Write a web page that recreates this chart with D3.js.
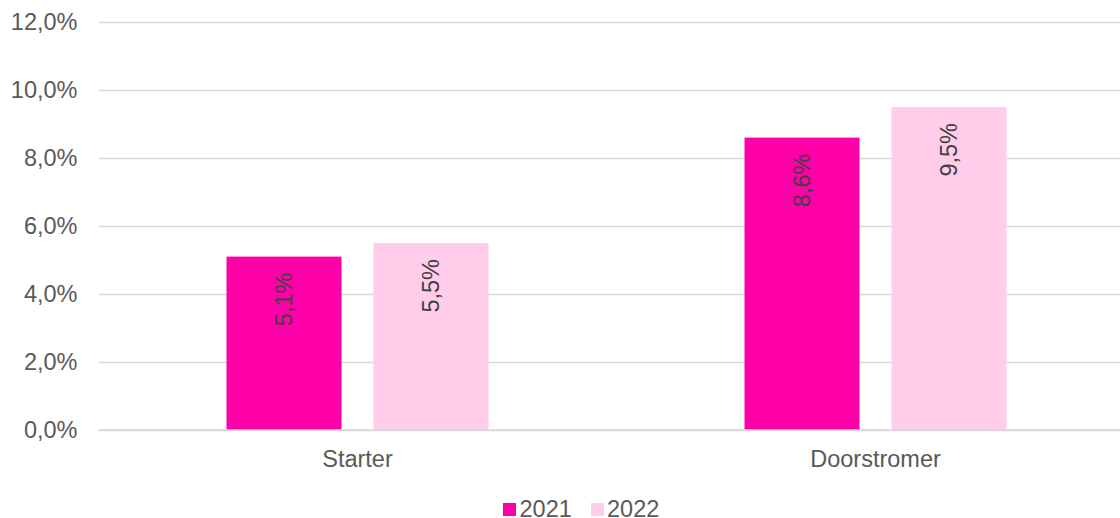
<!DOCTYPE html>
<html>
<head>
<meta charset="utf-8">
<script src="https://cdn.jsdelivr.net/npm/d3@7"></script>
<style>
  html, body { margin: 0; padding: 0; background: #fff; }
  svg { display: block; font-family: "Liberation Sans", Arial, sans-serif; }
</style>
</head>
<body>
<svg id="chart" width="1120" height="518"></svg>
<script>
const categories = ["Starter", "Doorstromer"];
const seriesNames = ["2021", "2022"];
const values2021 = [5.1, 8.6];
const values2022 = [5.5, 9.5];
const yTicks = [0, 2, 4, 6, 8, 10, 12];
const seriesColors = ["#FF00A8", "#FFCCEA"];

const series = [values2021, values2022];
const svg = d3.select("#chart");
const textColor = "#595959";
const fontSize = 23.5;
const fmt = v => v.toFixed(1).replace(".", ",") + "%";

const left = 98.5, bandW = 518;
const y = d3.scaleLinear().domain([0, 12]).range([430, 22]);
const x0 = d3.scaleBand().domain(categories)
  .range([left, left + bandW * categories.length]).paddingInner(0).paddingOuter(0);
const x1 = d3.scaleBand().domain(seriesNames)
  .range([128, bandW - 128]).paddingInner(32 / 262 * 2 / (1 + 32 / 262)).paddingOuter(0);

// gridlines
const grid = d3.axisLeft(y).tickValues(yTicks).tickSize(-(1120 - left)).tickFormat("");
svg.append("g").attr("transform", `translate(${left},0)`).call(grid)
  .call(g => g.select(".domain").remove())
  .call(g => g.selectAll("line").attr("stroke", "#d9d9d9").attr("stroke-width", 1.3));

// y tick labels
svg.append("g").selectAll("text").data(yTicks).join("text")
  .attr("x", 77.5).attr("y", d => y(d)).attr("dy", "0.35em")
  .attr("text-anchor", "end").attr("fill", textColor).attr("font-size", fontSize)
  .text(d => fmt(d));

// bars
const groups = svg.append("g").selectAll("g").data(categories).join("g")
  .attr("transform", c => `translate(${x0(c)},0)`);

groups.selectAll("rect")
  .data((c, i) => seriesNames.map((s, j) => ({ s, j, v: series[j][i] })))
  .join("rect")
  .attr("x", d => x1(d.s)).attr("width", x1.bandwidth())
  .attr("y", d => y(d.v)).attr("height", d => y(0) - y(d.v))
  .attr("fill", d => seriesColors[d.j]);

// value labels, rotated inside the bar tops
groups.selectAll("text.val")
  .data((c, i) => seriesNames.map((s, j) => ({ s, j, v: series[j][i] })))
  .join("text").attr("class", "val")
  .attr("transform", d => `translate(${x1(d.s) + x1.bandwidth() / 2},${y(d.v) + 16}) rotate(-90)`)
  .attr("text-anchor", "end").attr("dy", "0.35em")
  .attr("fill", "#404040").attr("font-size", fontSize)
  .text(d => fmt(d.v));

// baseline
svg.append("line").attr("x1", left).attr("x2", 1120).attr("y1", y(0)).attr("y2", y(0))
  .attr("stroke", "#d9d9d9").attr("stroke-width", 1.3);

// category labels
svg.append("g").selectAll("text").data(categories).join("text")
  .attr("x", c => x0(c) + bandW / 2).attr("y", 467)
  .attr("text-anchor", "middle").attr("fill", textColor).attr("font-size", fontSize)
  .text(c => c);

// legend
const legendItems = [{ x: 503, tx: 519.5 }, { x: 591, tx: 607 }];
const lg = svg.append("g").selectAll("g").data(seriesNames).join("g");
lg.append("rect").attr("x", (d, i) => legendItems[i].x).attr("y", 503)
  .attr("width", 13).attr("height", 13).attr("fill", (d, i) => seriesColors[i]);
lg.append("text").attr("x", (d, i) => legendItems[i].tx).attr("y", 517)
  .attr("fill", textColor).attr("font-size", fontSize).text(d => d);
</script>
</body>
</html>
